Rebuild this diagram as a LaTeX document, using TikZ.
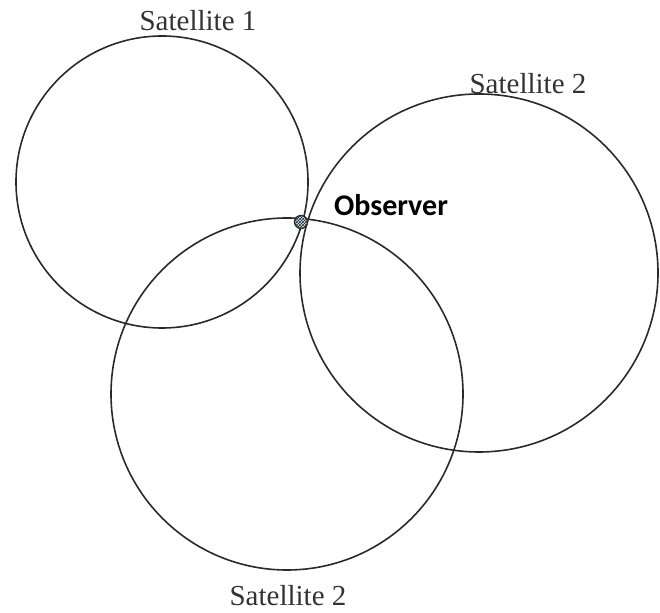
\documentclass[tikz,border=0pt]{standalone}
\usepackage{fontspec}
\setmainfont{Liberation Serif}
\newfontfamily\obsfont{Carlito}
\usetikzlibrary{patterns}
\definecolor{linec}{HTML}{2A2A2A}
\definecolor{textc}{HTML}{333333}
\begin{document}
\begin{tikzpicture}[x=1pt,y=1pt,
  rangecircle/.style={circle,draw=linec,line width=1.6pt,inner sep=0pt},
  satlabel/.style={text=textc,font=\fontsize{29}{32}\selectfont,inner sep=0pt},
  obslabel/.style={text=black,font=\obsfont\bfseries\fontsize{30}{33}\selectfont,inner sep=0pt}]
\useasboundingbox (0,0) rectangle (660,612);
\node[rangecircle,minimum size=292pt] (c1) at (162,430) {};
\node[rangecircle,minimum size=358pt] (c2) at (479,339) {};
\node[rangecircle,minimum size=352pt] (c3) at (287,218) {};
\node[circle,draw=linec,line width=1.3pt,fill=cyan!20,minimum size=13pt,inner sep=0pt] (obs) at (301,390) {};
\fill[pattern=crosshatch,pattern color=linec] (obs.center) circle (6pt);
\node[satlabel] (l1) at (198,591) {Satellite 1};
\node[satlabel] (l2) at (528,528) {Satellite 2};
\node[satlabel] (l3) at (288,16) {Satellite 2};
\node[obslabel] (lo) at (391,407) {Observer};
\end{tikzpicture}
\end{document}
